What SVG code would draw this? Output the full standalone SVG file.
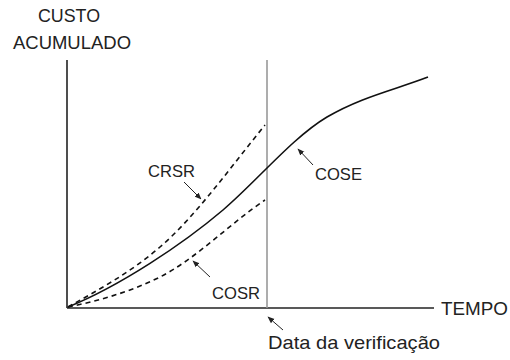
<svg xmlns="http://www.w3.org/2000/svg" width="510" height="360" viewBox="0 0 510 360">
<defs>
<marker id="ah" viewBox="0 0 10 10" refX="9" refY="5" markerWidth="7" markerHeight="7" orient="auto" markerUnits="userSpaceOnUse">
<path d="M0,1 L10,5 L0,9 z" fill="#222"/>
</marker>
</defs>
<style>
text{font-family:"Liberation Sans","DejaVu Sans",sans-serif;font-size:18px;fill:#222}
.in{font-size:17px}
.ax{stroke:#222;stroke-width:1.6;fill:none}
.sol{stroke:#111;stroke-width:1.6;fill:none}
.dash{stroke:#111;stroke-width:1.6;fill:none;stroke-dasharray:5,4}
.lead{stroke:#222;stroke-width:1;fill:none;marker-end:url(#ah)}
</style>
<rect width="510" height="360" fill="#fff"/>
<g id="axes">
<line class="ax" x1="67" y1="60" x2="67" y2="308"/>
<line class="ax" x1="67" y1="308" x2="434" y2="308"/>
<line x1="267" y1="60" x2="267" y2="308" stroke="#999" stroke-width="1.6"/>
</g>
<g id="curves">
<path id="crsr-curve" class="dash" d="M68,307 C98,290 130,273 160,247 C195,217 230,168 265,125"/>
<path id="cose-curve" class="sol" d="M68,307 C120,286 183,244 223,210 C258,180 292,138 327,117 C361,97 394,90 428,77"/>
<path id="cosr-curve" class="dash" d="M68,307 C98,301 130,292 160,277 C195,259.5 230,223.6 265,200"/>
</g>
<g id="labels">
<text x="38" y="22" textLength="62" lengthAdjust="spacingAndGlyphs">CUSTO</text>
<text x="13" y="49" textLength="118" lengthAdjust="spacingAndGlyphs">ACUMULADO</text>
<text x="441" y="315" textLength="67" lengthAdjust="spacingAndGlyphs">TEMPO</text>
<text class="in" x="148" y="177" textLength="47" lengthAdjust="spacingAndGlyphs">CRSR</text>
<text class="in" x="212" y="299" textLength="48" lengthAdjust="spacingAndGlyphs">COSR</text>
<text class="in" x="315" y="180" textLength="47" lengthAdjust="spacingAndGlyphs">COSE</text>
<text x="268" y="349" style="font-size:19px" textLength="172" lengthAdjust="spacingAndGlyphs">Data da verificação</text>
</g>
<g id="connectors">
<line class="lead" x1="184" y1="182" x2="201" y2="199"/>
<line class="lead" x1="210" y1="277" x2="193" y2="261"/>
<line class="lead" x1="313" y1="165" x2="298" y2="149"/>
<line class="lead" x1="283" y1="330" x2="268" y2="317"/>
</g>
</svg>
